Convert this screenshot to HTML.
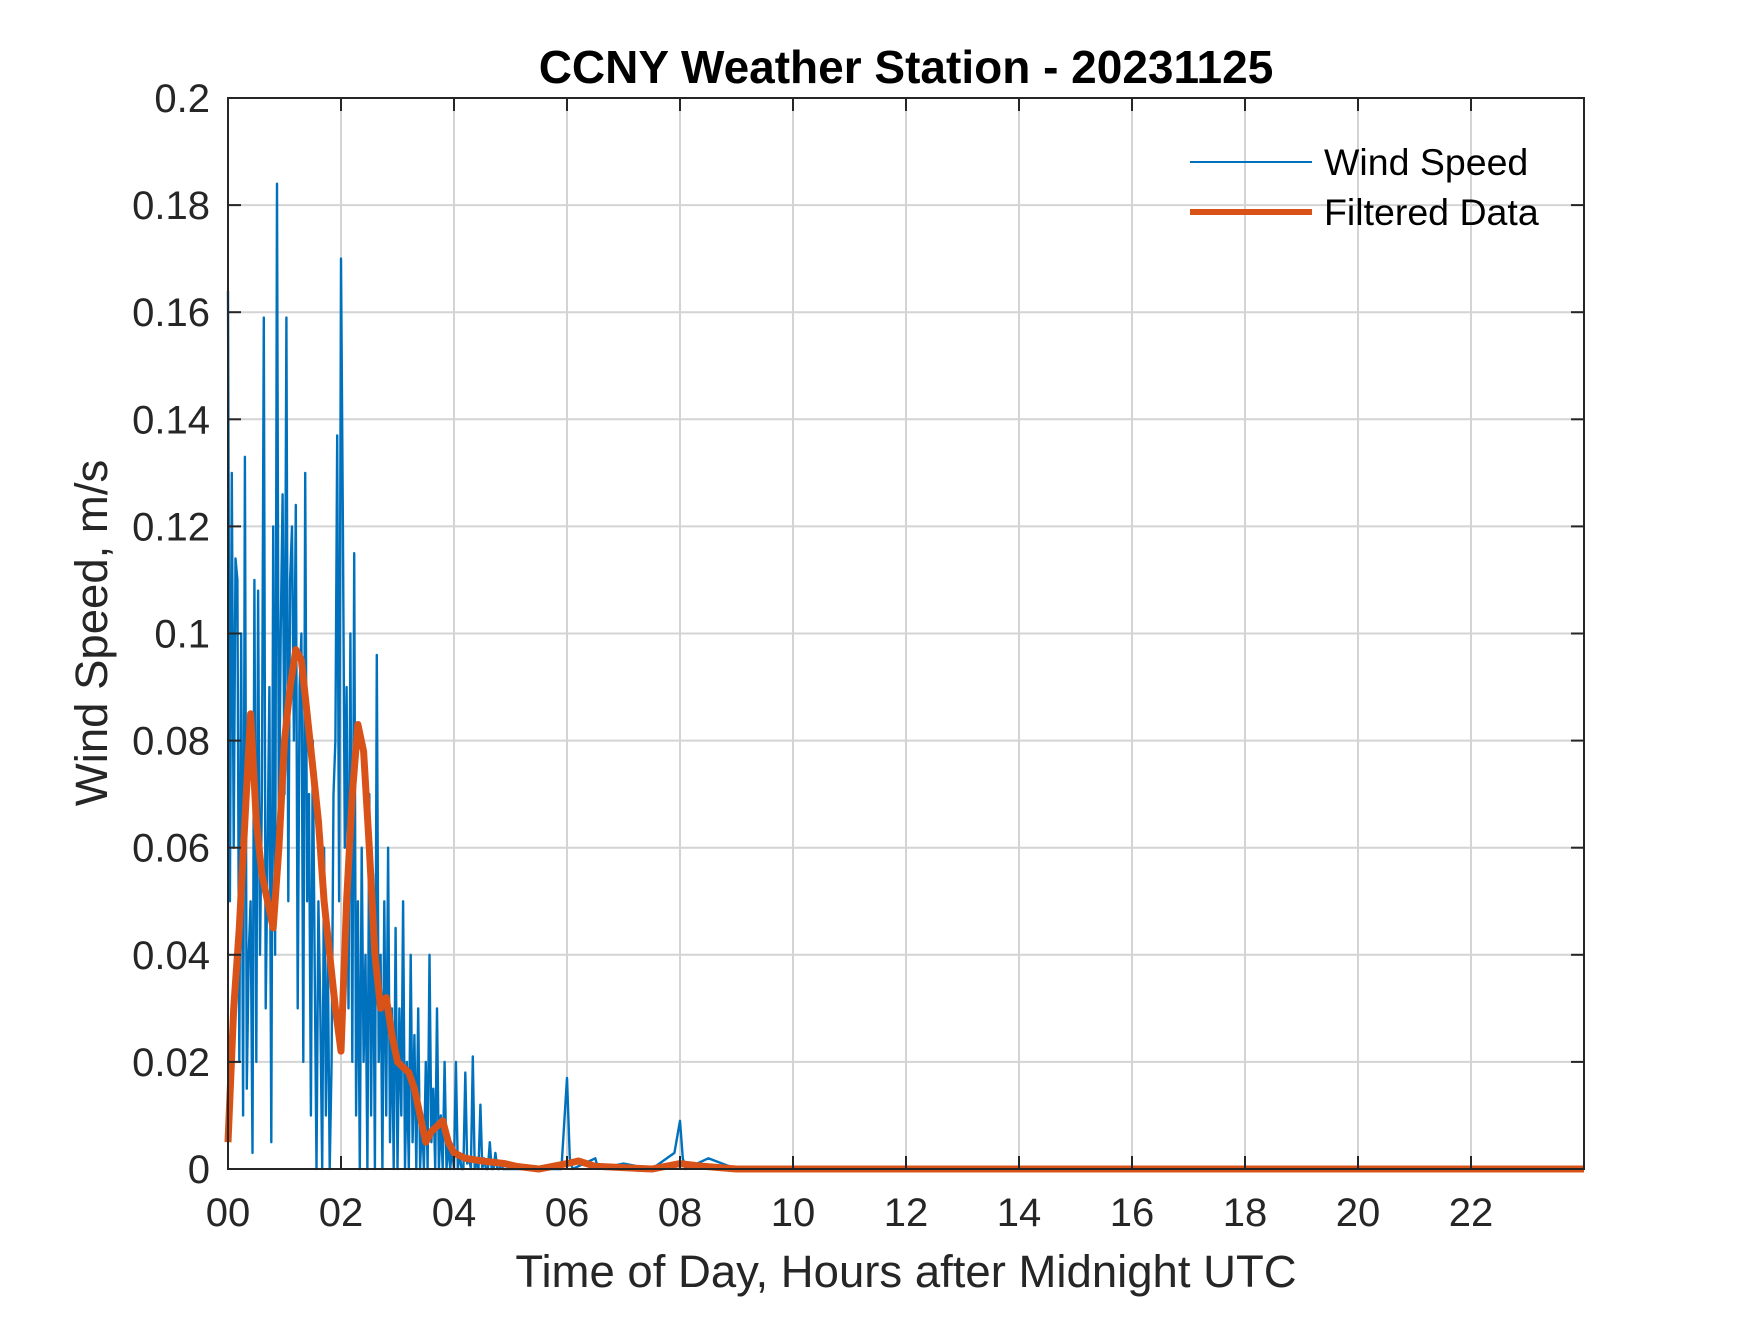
<!DOCTYPE html>
<html><head><meta charset="utf-8"><style>
body{margin:0;background:#fff;width:1750px;height:1313px;overflow:hidden}
svg{font-family:"Liberation Sans",Arial,sans-serif}
</style></head><body>
<svg id="chart" width="1750" height="1313" viewBox="0 0 1750 1313" xmlns="http://www.w3.org/2000/svg">
<rect x="0" y="0" width="1750" height="1313" fill="#fff"/>
<g id="grid"></g>
<g id="series"></g>
<g id="axes"></g>
<text x="906" y="83" text-anchor="middle" font-size="46" font-weight="bold" fill="#000">CCNY Weather Station - 20231125</text>
<text x="906" y="1287" text-anchor="middle" font-size="45.5" fill="#262626">Time of Day, Hours after Midnight UTC</text>
<text transform="translate(107,633) rotate(-90)" text-anchor="middle" font-size="45.5" fill="#262626">Wind Speed, m/s</text>
<g>
<line x1="1190" y1="162" x2="1312" y2="162" stroke="#0072BD" stroke-width="2"/>
<text x="1324" y="175" font-size="37.5" fill="#000">Wind Speed</text>
<line x1="1190" y1="212" x2="1312" y2="212" stroke="#D95319" stroke-width="6"/>
<text x="1324" y="225" font-size="37.5" fill="#000">Filtered Data</text>
</g>
</svg>
<script>
const xTickValues=[0,2,4,6,8,10,12,14,16,18,20,22];
const xTickLabels=["00","02","04","06","08","10","12","14","16","18","20","22"];
const yTickValues=[0,0.02,0.04,0.06,0.08,0.1,0.12,0.14,0.16,0.18,0.2];
const yTickLabels=["0","0.02","0.04","0.06","0.08","0.1","0.12","0.14","0.16","0.18","0.2"];
const windStepHours=2/60;
const windEarly=[
0.164,0.05,0.13,0.06,0.114,0.11,0.02,0.10,0.01,0.133,0.015,0.04,0.05,0.003,0.11,
0.02,0.108,0.04,0.07,0.159,0.03,0.06,0.09,0.005,0.12,0.04,0.184,0.06,0.10,0.126,
0.07,0.159,0.05,0.11,0.12,0.08,0.124,0.03,0.09,0.10,0.02,0.13,0.05,0.07,0.01,
0.08,0.04,0.0,0.05,0.03,0.0,0.06,0.01,0.04,0.0,0.02,0.07,0.08,0.137,0.05,
0.17,0.12,0.06,0.09,0.03,0.10,0.02,0.115,0.01,0.05,0.0,0.06,0.02,0.04,0.0,
0.07,0.01,0.055,0.0,0.096,0.02,0.04,0.0,0.05,0.01,0.06,0.005,0.03,0.0,0.045,
0.0,0.03,0.01,0.05,0.0,0.02,0.0,0.04,0.005,0.025,0.0,0.03,0.0,0.01,0.0,
0.02,0.0,0.04,0.005,0.015,0.0,0.03,0.0,0.01,0.0,0.02,0.0,0.005,0.0,0.004,
0.0,0.02,0.0,0.003,0.0,0.0,0.018,0.001,0.002,0.0,0.021,0.0,0.001,0.0,0.012,
0.0,0.002,0.0,0.0,0.005,0.0,0.0,0.003,0.0,0.0,0.001,0.0,0.0,0.0,0.0];
const windLateTimes=[5.5,5.9,6.0,6.05,6.1,6.5,6.55,7.0,7.5,7.9,8.0,8.05,8.1,8.5,9,24];
const windLateValues=[0,0,0.017,0.002,0,0.002,0,0.001,0,0.003,0.009,0.002,0,0.002,0,0];
const filtTimes=[0,0.1,0.2,0.3,0.4,0.5,0.6,0.7,0.8,0.9,1.0,1.1,1.2,1.3,1.4,1.5,1.6,1.7,1.8,1.9,2.0,2.1,2.2,2.3,2.4,2.5,2.6,2.7,2.8,2.9,3.0,3.1,3.2,3.3,3.4,3.5,3.6,3.7,3.8,3.9,4.0,4.2,4.5,4.9,5.1,5.5,6.0,6.2,6.5,7.5,8.0,8.4,9,24];
const filtValues=[0.005,0.03,0.045,0.065,0.085,0.065,0.055,0.05,0.045,0.06,0.08,0.09,0.097,0.095,0.085,0.075,0.065,0.05,0.04,0.03,0.022,0.05,0.07,0.083,0.078,0.06,0.04,0.03,0.032,0.025,0.02,0.019,0.018,0.015,0.01,0.005,0.007,0.008,0.009,0.005,0.003,0.002,0.0015,0.001,0.0005,0,0.001,0.0015,0.0005,0,0.001,0.0005,0,0];

const NS="http://www.w3.org/2000/svg";
const L=228,R=1584,T=98,B=1169;
const xs=h=>L+(h/24)*(R-L);
const ys=v=>B-(v/0.2)*(B-T);
function mk(tag,attrs,parent){const e=document.createElementNS(NS,tag);for(const k in attrs)e.setAttribute(k,attrs[k]);parent.appendChild(e);return e;}
const grid=document.getElementById('grid'),axes=document.getElementById('axes'),series=document.getElementById('series');
xTickValues.forEach((v,i)=>{
  if(v>0){const g=mk('line',{x1:xs(v),x2:xs(v),y1:T,y2:B,stroke:'#d4d4d4','stroke-width':2},grid);
  
  }
  const t1=mk('line',{x1:xs(v),x2:xs(v),y1:B,y2:B-13,stroke:'#262626','stroke-width':2},axes);
  
  
  const t2=mk('line',{x1:xs(v),x2:xs(v),y1:T,y2:T+13,stroke:'#262626','stroke-width':2},axes);
  
  
  const lb=mk('text',{x:xs(v),y:1226,'text-anchor':'middle','font-size':40,fill:'#262626'},axes);
  lb.textContent=xTickLabels[i];
  
  
});
yTickValues.forEach((v,i)=>{
  if(v>0&&v<0.2){const g=mk('line',{x1:L,x2:R,y1:ys(v),y2:ys(v),stroke:'#d4d4d4','stroke-width':2},grid);
  
  }
  const t1=mk('line',{x1:L,x2:L+13,y1:ys(v),y2:ys(v),stroke:'#262626','stroke-width':2},axes);
  
  
  const t2=mk('line',{x1:R,x2:R-13,y1:ys(v),y2:ys(v),stroke:'#262626','stroke-width':2},axes);
  
  
  const lb=mk('text',{x:210,y:ys(v)+14,'text-anchor':'end','font-size':40,fill:'#262626'},axes);
  lb.textContent=yTickLabels[i];
  
  
});
const box=mk('rect',{x:L,y:T,width:R-L,height:B-T,fill:'none',stroke:'#262626','stroke-width':2},axes);


let pts=windEarly.map((v,i)=>xs(i*windStepHours).toFixed(1)+','+ys(v).toFixed(1));
windLateTimes.forEach((t,i)=>pts.push(xs(t).toFixed(1)+','+ys(windLateValues[i]).toFixed(1)));
const wl=mk('polyline',{points:pts.join(' '),fill:'none',stroke:'#0072BD','stroke-width':2.4,'stroke-linejoin':'round'},series);


const fp=filtTimes.map((t,i)=>xs(t).toFixed(1)+','+ys(filtValues[i]).toFixed(1)).join(' ');
const fl=mk('polyline',{points:fp,fill:'none',stroke:'#D95319','stroke-width':7,'stroke-linejoin':'round'},series);


</script>
</body></html>
